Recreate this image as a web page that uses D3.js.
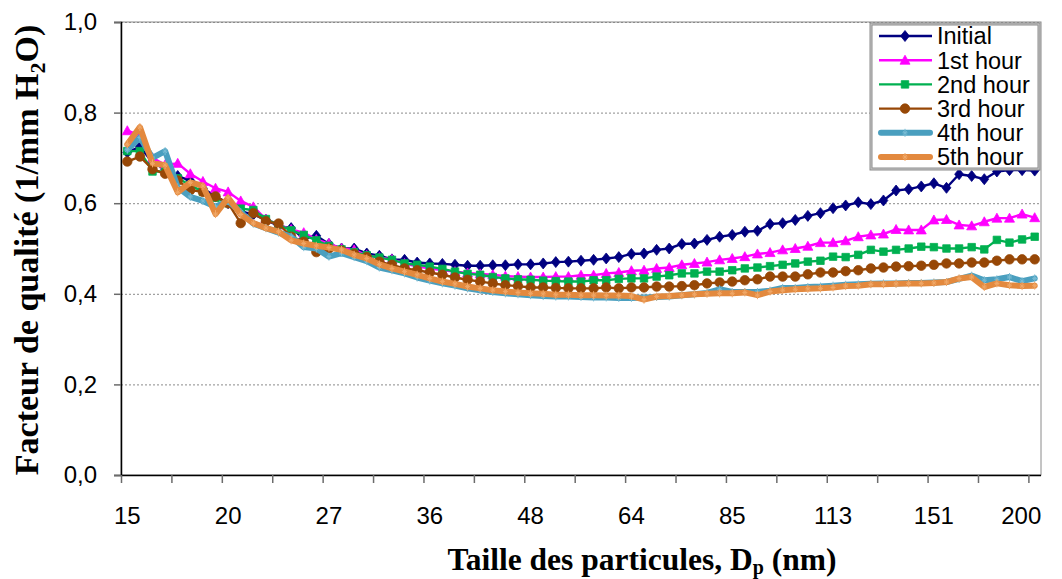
<!DOCTYPE html>
<html>
<head>
<meta charset="utf-8">
<script src="https://cdn.jsdelivr.net/npm/d3@7"></script>
<style>
  html, body { margin: 0; padding: 0; background: #fff; }
  svg { display: block; }
</style>
</head>
<body>
<svg id="chart" width="1062" height="579"></svg>
<script>
// Particle diameters of the SMPS channels (nm), one category each
const diameters = [15.1, 15.7, 16.3, 16.8, 17.5, 18.1, 18.8, 19.5, 20.2, 20.9,
  21.7, 22.5, 23.3, 24.1, 25.0, 25.9, 26.9, 27.9, 28.9, 30.0,
  31.1, 32.2, 33.4, 34.6, 35.9, 37.2, 38.5, 40.0, 41.4, 42.9,
  44.5, 46.1, 47.8, 49.6, 51.4, 53.3, 55.2, 57.3, 59.4, 61.5,
  63.8, 66.1, 68.5, 71.0, 73.7, 76.4, 79.1, 82.0, 85.1, 88.2,
  91.4, 94.7, 98.2, 101.8, 105.5, 109.4, 113.4, 117.6, 121.9, 126.3,
  131.0, 135.8, 140.7, 145.9, 151.2, 156.8, 162.5, 168.5, 174.7, 181.1,
  187.7, 194.6, 200.0];

// Labelled categories on the x axis
const tickIndex = [0, 8, 16, 24, 32, 40, 48, 56, 64, 72];
const tickLabels = ["15", "20", "27", "36", "48", "64", "85", "113", "151", "200"];
const yTicks = [0, 0.2, 0.4, 0.6, 0.8, 1.0];

const seriesNames = ["Initial", "1st hour", "2nd hour", "3rd hour", "4th hour", "5th hour"];

// Quality factor (1/mm H2O) per channel
const initial = [0.712, 0.725, 0.690, 0.675, 0.660, 0.650, 0.633, 0.615, 0.600, 0.582,
  0.575, 0.563, 0.550, 0.545, 0.522, 0.528, 0.510, 0.500, 0.500, 0.489,
  0.484, 0.476, 0.475, 0.469, 0.467, 0.466, 0.464, 0.462, 0.462, 0.463,
  0.463, 0.465, 0.465, 0.467, 0.470, 0.471, 0.473, 0.475, 0.478, 0.481,
  0.488, 0.489, 0.497, 0.500, 0.510, 0.511, 0.519, 0.526, 0.530, 0.537,
  0.539, 0.554, 0.556, 0.563, 0.572, 0.578, 0.589, 0.595, 0.602, 0.598,
  0.606, 0.628, 0.631, 0.637, 0.644, 0.634, 0.664, 0.660, 0.653, 0.670,
  0.673, 0.673, 0.672];
const hour1 = [0.760, 0.750, 0.700, 0.685, 0.688, 0.665, 0.648, 0.633, 0.625, 0.605,
  0.592, 0.565, 0.552, 0.542, 0.535, 0.520, 0.511, 0.500, 0.497, 0.485,
  0.480, 0.476, 0.467, 0.460, 0.456, 0.452, 0.449, 0.446, 0.444, 0.442,
  0.439, 0.438, 0.437, 0.437, 0.438, 0.438, 0.441, 0.441, 0.445, 0.447,
  0.451, 0.452, 0.456, 0.458, 0.464, 0.467, 0.470, 0.475, 0.478, 0.482,
  0.488, 0.491, 0.497, 0.500, 0.505, 0.513, 0.513, 0.517, 0.526, 0.530,
  0.532, 0.542, 0.541, 0.541, 0.563, 0.564, 0.552, 0.550, 0.559, 0.567,
  0.567, 0.576, 0.568];
const hour2 = [0.715, 0.715, 0.670, 0.670, 0.655, 0.640, 0.625, 0.612, 0.600, 0.588,
  0.585, 0.565, 0.552, 0.540, 0.530, 0.518, 0.506, 0.498, 0.492, 0.485,
  0.480, 0.475, 0.467, 0.464, 0.460, 0.455, 0.449, 0.444, 0.442, 0.437,
  0.434, 0.432, 0.431, 0.429, 0.428, 0.427, 0.427, 0.430, 0.430, 0.433,
  0.434, 0.434, 0.438, 0.441, 0.445, 0.445, 0.449, 0.449, 0.452, 0.456,
  0.458, 0.461, 0.464, 0.467, 0.471, 0.473, 0.482, 0.481, 0.486, 0.497,
  0.493, 0.497, 0.500, 0.504, 0.503, 0.500, 0.500, 0.503, 0.498, 0.519,
  0.513, 0.520, 0.526];
const hour3 = [0.692, 0.703, 0.675, 0.665, 0.650, 0.629, 0.625, 0.615, 0.600, 0.556,
  0.578, 0.560, 0.555, 0.526, 0.515, 0.492, 0.500, 0.495, 0.488, 0.481,
  0.471, 0.464, 0.456, 0.452, 0.447, 0.442, 0.436, 0.431, 0.427, 0.423,
  0.419, 0.417, 0.414, 0.414, 0.413, 0.412, 0.412, 0.412, 0.414, 0.412,
  0.414, 0.414, 0.416, 0.416, 0.417, 0.419, 0.423, 0.425, 0.427, 0.430,
  0.432, 0.438, 0.438, 0.438, 0.443, 0.447, 0.447, 0.450, 0.452, 0.456,
  0.458, 0.460, 0.461, 0.462, 0.464, 0.467, 0.467, 0.469, 0.469, 0.473,
  0.476, 0.476, 0.476];
const hour4 = [0.718, 0.745, 0.700, 0.715, 0.635, 0.614, 0.605, 0.592, 0.605, 0.580,
  0.555, 0.545, 0.535, 0.526, 0.503, 0.500, 0.482, 0.490, 0.481, 0.472,
  0.458, 0.452, 0.445, 0.436, 0.429, 0.423, 0.418, 0.412, 0.408, 0.404,
  0.401, 0.399, 0.397, 0.395, 0.394, 0.394, 0.393, 0.392, 0.392, 0.391,
  0.391, 0.392, 0.393, 0.394, 0.397, 0.399, 0.402, 0.410, 0.404, 0.404,
  0.404, 0.407, 0.413, 0.413, 0.415, 0.416, 0.418, 0.420, 0.421, 0.422,
  0.423, 0.423, 0.424, 0.424, 0.425, 0.426, 0.433, 0.440, 0.430, 0.432,
  0.437, 0.428, 0.434];
const hour5 = [0.730, 0.768, 0.688, 0.684, 0.624, 0.646, 0.638, 0.576, 0.612, 0.575,
  0.556, 0.545, 0.537, 0.518, 0.511, 0.506, 0.502, 0.497, 0.486, 0.478,
  0.465, 0.456, 0.449, 0.442, 0.434, 0.427, 0.422, 0.416, 0.412, 0.408,
  0.405, 0.403, 0.401, 0.400, 0.398, 0.398, 0.397, 0.397, 0.396, 0.396,
  0.395, 0.387, 0.394, 0.395, 0.397, 0.399, 0.400, 0.401, 0.401, 0.403,
  0.397, 0.405, 0.408, 0.410, 0.411, 0.412, 0.414, 0.417, 0.418, 0.421,
  0.421, 0.422, 0.423, 0.423, 0.424, 0.426, 0.434, 0.437, 0.415, 0.423,
  0.419, 0.417, 0.418];

const seriesValues = [initial, hour1, hour2, hour3, hour4, hour5];

const styles = [
  { color: "#000080", width: 2.4, marker: "diamond", size: 11 },
  { color: "#FF00FF", width: 2.4, marker: "triangle", size: 10 },
  { color: "#00B050", width: 2.4, marker: "square", size: 7.5 },
  { color: "#974706", width: 2.4, marker: "circle", size: 9.5 },
  { color: "#4A9FBF", width: 6, marker: "star", size: 5, markColor: "#79BCD4" },
  { color: "#E3893E", width: 6, marker: "star", size: 5, markColor: "#F0A868" }
];

const svg = d3.select("#chart");
const plot = { left: 121, right: 1041, top: 22, bottom: 475 };

const x = d3.scaleBand().domain(d3.range(diameters.length)).range([plot.left, plot.right]).padding(0);
const xc = i => x(i) + x.bandwidth() / 2;
const xEdge = d3.scaleLinear().domain([0, diameters.length]).range([plot.left, plot.right]);
const y = d3.scaleLinear().domain([0, 1]).range([plot.bottom, plot.top]);

const fr = d3.formatLocale({ decimal: ",", thousands: " ", grouping: [3], currency: ["", ""] });
const fmtY = fr.format(".1f");

// Plot area border
svg.append("rect")
  .attr("x", plot.left).attr("y", plot.top)
  .attr("width", plot.right - plot.left).attr("height", plot.bottom - plot.top)
  .attr("fill", "none").attr("stroke", "#8a8a8a").attr("stroke-width", 1);

// Dashed horizontal gridlines
svg.append("g")
  .selectAll("line")
  .data(yTicks.filter(v => v > 0))
  .join("line")
  .attr("x1", plot.left).attr("x2", plot.right)
  .attr("y1", d => y(d) + 0.5).attr("y2", d => y(d) + 0.5)
  .attr("stroke", "#8a8a8a").attr("stroke-width", 1)
  .attr("stroke-dasharray", "2,2");

// Y axis
const yAxis = svg.append("g")
  .attr("transform", `translate(${plot.left},0)`)
  .call(d3.axisLeft(y).tickValues(yTicks).tickFormat(fmtY).tickSize(7).tickPadding(17));
yAxis.select(".domain").attr("stroke", "#000").attr("stroke-width", 1.5);
yAxis.selectAll(".tick line").attr("stroke", "#6b6b6b").attr("stroke-width", 1.5);
yAxis.selectAll(".tick text")
  .attr("font-family", "'Liberation Sans', Arial, sans-serif")
  .attr("font-size", 24).attr("fill", "#000");

// X axis: tick marks every 4 channels at category boundaries
const xTickAxis = svg.append("g")
  .attr("transform", `translate(0,${plot.bottom})`)
  .call(d3.axisBottom(xEdge).tickValues(d3.range(0, diameters.length, 4)).tickFormat("").tickSize(8).tickSizeOuter(0));
xTickAxis.select(".domain").attr("stroke", "#000").attr("stroke-width", 1.5)
  .attr("d", `M${plot.left},0.5H${plot.right}`);
xTickAxis.selectAll(".tick line").attr("stroke", "#6b6b6b").attr("stroke-width", 1.5);

// X axis labels centred on their channel
const xLabelAxis = svg.append("g")
  .attr("transform", `translate(0,${plot.bottom})`)
  .call(d3.axisBottom(x).tickValues(tickIndex).tickFormat((d, k) => tickLabels[k]).tickSize(0).tickPadding(32));
xLabelAxis.select(".domain").remove();
xLabelAxis.selectAll(".tick text")
  .attr("font-family", "'Liberation Sans', Arial, sans-serif")
  .attr("font-size", 24).attr("fill", "#000");
// keep the last label inside the plot area
xLabelAxis.selectAll(".tick").filter(d => d === tickIndex[tickIndex.length - 1])
  .select("text").attr("text-anchor", "end").attr("dx", plot.right - xc(tickIndex[tickIndex.length - 1]) + x.bandwidth() / 2 - 6);

// Marker shapes
function markerPath(type, s) {
  const h = s / 2;
  switch (type) {
    case "diamond": return `M0,${-h}L${h * 0.8},0L0,${h}L${-h * 0.8},0Z`;
    case "triangle": return `M0,${-h}L${h},${h * 0.8}L${-h},${h * 0.8}Z`;
    case "square": return `M${-h},${-h}H${h}V${h}H${-h}Z`;
    case "circle": return d3.symbol(d3.symbolCircle, Math.PI * h * h)();
    case "star": {
      const a = h * 0.75;
      return `M0,${-h - 1.5}V${h + 1.5}M${-a},${-a}L${a},${a}M${-a},${a}L${a},${-a}M${-h},0H${h}`;
    }
  }
}

const line = d3.line().x((d, i) => xc(i)).y(d => y(d));

const seriesG = svg.append("g");
seriesValues.forEach((vals, k) => {
  const st = styles[k];
  const g = seriesG.append("g");
  g.append("path")
    .datum(vals)
    .attr("d", line)
    .attr("fill", "none")
    .attr("stroke", st.color)
    .attr("stroke-width", st.width)
    .attr("stroke-linejoin", "round")
    .attr("stroke-linecap", "round");
  const isStar = st.marker === "star";
  g.selectAll("path.m")
    .data(vals)
    .join("path")
    .attr("class", "m")
    .attr("transform", (d, i) => `translate(${xc(i)},${y(d)})`)
    .attr("d", markerPath(st.marker, st.size))
    .attr("fill", isStar ? "none" : st.color)
    .attr("stroke", isStar ? st.markColor : st.color)
    .attr("stroke-width", isStar ? 1 : 0.8);
});

// Legend
const legend = svg.append("g");
legend.append("rect")
  .attr("x", 871).attr("y", 24).attr("width", 168).attr("height", 145)
  .attr("fill", "#fff").attr("stroke", "#8c8c8c").attr("stroke-width", 3);
legend.append("rect")
  .attr("x", 871).attr("y", 24).attr("width", 168).attr("height", 145)
  .attr("fill", "none").attr("stroke", "#c8c8c8").attr("stroke-width", 1);

seriesNames.forEach((name, k) => {
  const st = styles[k];
  const cy = 36 + k * 24.2;
  const item = legend.append("g");
  item.append("line")
    .attr("x1", 879 + (st.width > 3 ? 2 : 0)).attr("x2", 932 - (st.width > 3 ? 2 : 0))
    .attr("y1", cy).attr("y2", cy)
    .attr("stroke", st.color).attr("stroke-width", st.width)
    .attr("stroke-linecap", st.width > 3 ? "round" : "butt");
  const isStar = st.marker === "star";
  item.append("path")
    .attr("transform", `translate(905,${cy})`)
    .attr("d", markerPath(st.marker, st.size))
    .attr("fill", isStar ? "none" : st.color)
    .attr("stroke", isStar ? st.markColor : st.color)
    .attr("stroke-width", isStar ? 1 : 0.8);
  item.append("text")
    .attr("x", 937).attr("y", cy + 8.3)
    .attr("font-family", "'Liberation Sans', Arial, sans-serif")
    .attr("font-size", 23.5).attr("fill", "#000")
    .text(name);
});

// Axis titles
const yTitle = svg.append("text")
  .attr("transform", `translate(38,250) rotate(-90)`)
  .attr("text-anchor", "middle")
  .attr("font-family", "'Liberation Serif', 'Times New Roman', serif")
  .attr("font-weight", "bold").attr("font-size", 34).attr("fill", "#000");
yTitle.append("tspan").text("Facteur de qualité (1/mm H");
yTitle.append("tspan").attr("font-size", 22).attr("dy", 7).text("2");
yTitle.append("tspan").attr("dy", -7).text("O)");

const xTitle = svg.append("text")
  .attr("x", 642).attr("y", 570)
  .attr("text-anchor", "middle")
  .attr("font-family", "'Liberation Serif', 'Times New Roman', serif")
  .attr("font-weight", "bold").attr("font-size", 31.5).attr("fill", "#000");
xTitle.append("tspan").text("Taille des particules, D");
xTitle.append("tspan").attr("font-size", 20).attr("dy", 4).text("p");
xTitle.append("tspan").attr("dy", -4).text(" (nm)");
</script>
</body>
</html>
